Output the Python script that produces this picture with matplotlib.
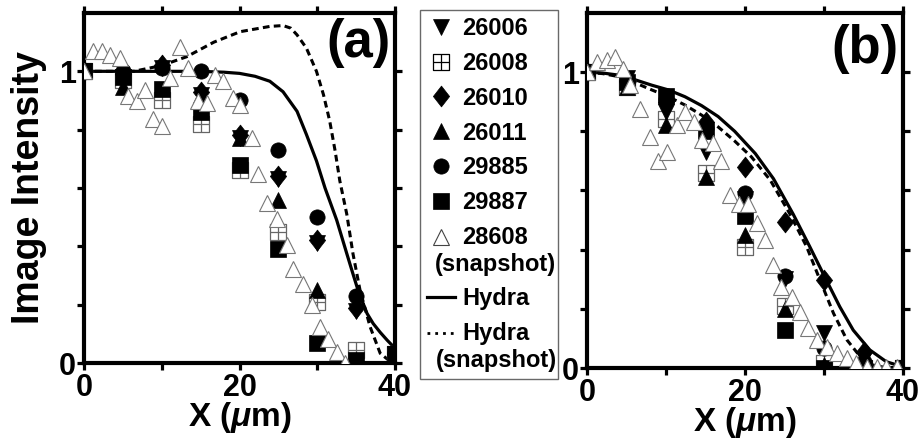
import numpy as np
import matplotlib
matplotlib.use('Agg')
import matplotlib.pyplot as plt
from matplotlib.path import Path

plt.rcParams['font.family'] = ['Liberation Sans', 'DejaVu Sans']
plt.rcParams['font.weight'] = 'bold'
plt.rcParams['mathtext.fontset'] = 'custom'
plt.rcParams['mathtext.it'] = 'Liberation Sans:italic:bold'
plt.rcParams['mathtext.rm'] = 'Liberation Sans:bold'
plt.rcParams['mathtext.bf'] = 'Liberation Sans:bold'

# ---------------- data ----------------
x_pos = [0, 5, 10, 15, 20, 25, 30, 35, 40]
series_labels = ['26006', '26008', '26010', '26011', '29885', '29887']
snap_label = '28608\n(snapshot)'
hydra_label = 'Hydra'
hydra_snap_label = 'Hydra\n(snapshot)'

# panel (a)
a_26006 = [1.0, 0.98, 1.01, 0.92, 0.77, 0.63, 0.41, 0.18, 0.03]
a_26008 = [1.0, 0.97, 0.90, 0.82, 0.66, 0.45, 0.21, 0.045, 0.03]
a_26010 = [1.0, 0.99, 1.02, 0.93, 0.78, 0.64, 0.42, 0.19, 0.03]
a_26011 = [1.0, 0.945, 1.03, 0.92, 0.77, 0.56, 0.25, 0.01, 0.03]
a_29885 = [1.0, 1.0, 1.01, 1.0, 0.90, 0.73, 0.50, 0.23, 0.035]
a_29887 = [1.0, 0.98, 0.94, 0.86, 0.68, 0.39, 0.07, 0.01, 0.03]

a_snap_x = [0, 1.2, 2.3, 3.3, 4.6, 5.7, 6.8, 7.8, 8.9, 10.0, 11.1, 12.3, 13.4,
            14.7, 15.8, 16.8, 17.9, 19.2, 20.1, 21.6, 22.4, 23.5, 24.8, 26.1,
            26.9, 28.2, 29.3, 30.4, 31.4, 32.5, 33.6]
a_snap_y = [1.0, 1.068, 1.068, 1.057, 1.045, 0.915, 0.898, 0.937, 0.835, 0.812,
            0.977, 1.085, 1.011, 0.898, 0.892, 0.989, 0.966, 0.909, 0.886, 0.772,
            0.647, 0.55, 0.494, 0.403, 0.323, 0.272, 0.198, 0.124, 0.084, 0.039, 0.0]

a_hydra_x = [0, 5, 10, 15, 18, 20, 22, 23.9, 25.6, 27.4, 28.6, 29.9, 31.0, 32.5,
             33.8, 34.6, 35.1, 35.7, 36.4, 37.2, 38.1, 39.0, 39.8, 40]
a_hydra_y = [1.0, 1.0, 1.0, 1.0, 0.997, 0.993, 0.983, 0.966, 0.93, 0.863, 0.784,
             0.693, 0.60, 0.49, 0.375, 0.305, 0.262, 0.218, 0.17, 0.135, 0.105,
             0.078, 0.056, 0.05]

a_hsnap_x = [0, 5, 6.4, 10, 13.2, 16.7, 20.1, 23.9, 25.6, 26.6, 27.4, 28.6, 29.9,
             30.8, 31.6, 32.3, 32.9, 33.8, 34.6, 35.5, 36.8, 38.1, 39.4, 40]
a_hsnap_y = [1.0, 1.0, 1.0, 1.02, 1.05, 1.1, 1.136, 1.154, 1.157, 1.148, 1.125,
             1.08, 1.0, 0.92, 0.83, 0.727, 0.625, 0.51, 0.374, 0.25, 0.124, 0.033,
             0.005, 0.0]

# panel (b)
b_26006 = [1.0, 0.98, 0.865, 0.73, 0.57, 0.30, 0.117, 0.03, 0.0]
b_26008 = [1.0, 0.95, 0.84, 0.66, 0.41, 0.21, 0.016, 0.0, 0.0]
b_26010 = [1.0, 0.97, 0.90, 0.83, 0.68, 0.494, 0.297, 0.055, 0.0]
b_26011 = [1.0, 0.95, 0.82, 0.645, 0.45, 0.20, 0.01, 0.0, 0.0]
b_29885 = [1.0, 0.97, 0.91, 0.81, 0.59, 0.31, 0.067, 0.02, 0.0]
b_29887 = [1.0, 0.966, 0.92, 0.80, 0.515, 0.128, 0.0, 0.0, 0.0]

b_snap_x = [0, 1.23, 2.5, 3.5, 4.6, 5.4, 6.7, 8.0, 9.0, 10.1, 11.4, 12.4, 13.5,
            14.5, 16.0, 17.0, 18.1, 19.2, 20.4, 21.5, 22.5, 23.6, 24.6, 25.9,
            27.0, 28.0, 29.1, 30.4, 31.6, 32.9, 34.1, 35.4, 36.7, 37.9, 39.2]
b_snap_y = [1.0, 1.035, 1.04, 1.05, 1.01, 0.955, 0.877, 0.78, 0.70, 0.73, 0.82,
            0.866, 0.83, 0.77, 0.76, 0.70, 0.584, 0.556, 0.555, 0.489, 0.432,
            0.348, 0.275, 0.24, 0.19, 0.134, 0.095, 0.07, 0.05, 0.034, 0.016,
            0.005, 0.003, 0.003, 0.003]

b_hydra_x = [0, 2.0, 4.0, 6.0, 8.2, 10.3, 12.4, 14.5, 16.6, 18.7, 21.3, 23.6,
             26.1, 28.2, 30.3, 32.0, 33.7, 35.8, 37.9, 40]
b_hydra_y = [1.0, 0.997, 0.99, 0.975, 0.956, 0.94, 0.917, 0.887, 0.85, 0.80,
             0.725, 0.64, 0.52, 0.41, 0.297, 0.207, 0.128, 0.061, 0.021, 0.004]

b_hsnap_x = [0, 2.0, 4.0, 6.0, 8.2, 10.3, 12.4, 14.5, 16.6, 18.7, 20.8, 23.2,
             25.7, 27.8, 29.5, 31.2, 32.9, 34.6, 36.2, 38.0, 40]
b_hsnap_y = [1.0, 0.995, 0.985, 0.965, 0.94, 0.917, 0.889, 0.855, 0.815, 0.767,
             0.714, 0.635, 0.52, 0.41, 0.297, 0.185, 0.095, 0.038, 0.01, 0.0, 0.0]

x_ticks = [0, 10, 20, 30, 40]
x_ticklabels = ['0', '', '20', '', '40']
y_ticks = [0, 0.2, 0.4, 0.6, 0.8, 1.0]
y_ticklabels = ['0', '', '', '', '', '1']

# ---------------- styles ----------------
grid_sq = Path([(-1, -1), (1, -1), (1, 1), (-1, 1), (-1, -1),
                (0, -1), (0, 1), (-1, 0), (1, 0)],
               [Path.MOVETO, Path.LINETO, Path.LINETO, Path.LINETO, Path.CLOSEPOLY,
                Path.MOVETO, Path.LINETO, Path.MOVETO, Path.LINETO])
diamond = Path([(0, 1), (0.78, 0), (0, -1), (-0.78, 0), (0, 1)],
               [Path.MOVETO, Path.LINETO, Path.LINETO, Path.LINETO, Path.CLOSEPOLY])

styles = [
    dict(marker='v', ms=11, mfc='black', mec='black', mew=0.5, zorder=3),
    dict(marker=grid_sq, ms=12, mfc='none', mec='#666666', mew=0.9, zorder=2.5),
    dict(marker=diamond, ms=15, mfc='black', mec='black', mew=0.5, zorder=3),
    dict(marker='^', ms=11, mfc='black', mec='black', mew=0.5, zorder=3),
    dict(marker='o', ms=11, mfc='black', mec='black', mew=0.5, zorder=3),
    dict(marker='s', ms=11, mfc='black', mec='black', mew=0.5, zorder=3),
]
snap_style = dict(marker='^', ms=11.5, mfc='white', mec='#777777', mew=0.8, zorder=4)
dash_style = (0, (2.2, 1.4))


def draw(ax, series, sx, sy, hx, hy, hsx, hsy, tag, tag_xy):
    handles = []
    ax.plot(hx, hy, color='black', lw=2.3, zorder=2, label=hydra_label)
    ax.plot(hsx, hsy, color='black', lw=2.2, ls=dash_style, zorder=2,
            label=hydra_snap_label)
    for lab, vals, st in zip(series_labels, series, styles):
        h, = ax.plot(x_pos, vals, ls='none', label=lab, **st)
        handles.append(h)
    h, = ax.plot(sx, sy, ls='none', label=snap_label, **snap_style)
    handles.append(h)
    ax.set_xlim(0, 40)
    ax.set_ylim(0, 1.2)
    ax.set_xticks(x_ticks)
    ax.set_xticklabels(x_ticklabels)
    ax.set_yticks(y_ticks)
    ax.set_yticklabels(y_ticklabels)
    ax.tick_params(direction='out', top=True, right=True, length=5, width=2.3,
                   labelsize=22, pad=1)
    ax.tick_params(axis='x', pad=2)
    for sp in ax.spines.values():
        sp.set_linewidth(3.0)
    ax.set_xlabel(r'X ($\mu$m)', fontsize=24, fontweight='bold')
    ax.xaxis.set_label_coords(0.5, -0.105)
    ax.text(tag_xy[0], tag_xy[1], tag, transform=ax.transAxes, ha='right',
            va='top', fontsize=38, fontweight='bold')
    return handles


fig = plt.figure(figsize=(9.24, 4.44), dpi=100)
axA = fig.add_axes([84 / 924, 1 - 363 / 444, 311 / 924, 350 / 444])
axB = fig.add_axes([587 / 924, 1 - 368 / 444, 316 / 924, 355 / 444])

hA = draw(axA, [a_26006, a_26008, a_26010, a_26011, a_29885, a_29887],
          a_snap_x, a_snap_y, a_hydra_x, a_hydra_y, a_hsnap_x, a_hsnap_y,
          '(a)', (0.985, 0.985))
draw(axB, [b_26006, b_26008, b_26010, b_26011, b_29885, b_29887],
     b_snap_x, b_snap_y, b_hydra_x, b_hydra_y, b_hsnap_x, b_hsnap_y,
     '(b)', (0.985, 0.97))

axA.set_ylabel('Image Intensity', fontsize=27, fontweight='bold')
axA.yaxis.set_label_coords(-0.118, 0.5)

lines = axA.get_lines()[:2]
handles = hA + list(lines)
labels = [h.get_label() for h in handles]
leg_size = 17
leg = fig.legend(handles, labels, loc='upper left',
                 bbox_to_anchor=(420 / 924, 1 - 372 / 444, 138 / 924, 362 / 444),
                 bbox_transform=fig.transFigure, mode='expand',
                 prop=dict(weight='bold', size=leg_size), frameon=True,
                 fancybox=False, edgecolor='#444444', handlelength=1.2,
                 handletextpad=0.3, labelspacing=0.5, borderpad=0.3,
                 borderaxespad=0)
leg.get_frame().set_linewidth(1.0)

# legend handle look: black grid square, darker open triangle, dotted line
leg.legend_handles[1].set_markeredgecolor('black')
leg.legend_handles[6].set_markeredgecolor('#444444')
leg.legend_handles[8].set_linestyle((0, (1.0, 1.8)))
leg.legend_handles[8].set_linewidth(2.0)

# two-line entries: centre the second line under the row, align handle with line 1
renderer = fig.canvas.get_renderer()
for t, lh in zip(leg.get_texts(), leg.legend_handles):
    s = t.get_text()
    if '\n' in s:
        first, second = s.split('\n')
        fp = t.get_fontproperties()
        w1 = renderer.get_text_width_height_descent(first, fp, ismath=False)[0]
        w2 = renderer.get_text_width_height_descent(second, fp, ismath=False)[0]
        t.set_multialignment('center')
        t.set_x(-(w2 - w1) / 2)
        lh.set_ydata(np.asarray(lh.get_ydata(), dtype=float) + 0.6 * leg_size)

fig.savefig('out.png', dpi=100)
